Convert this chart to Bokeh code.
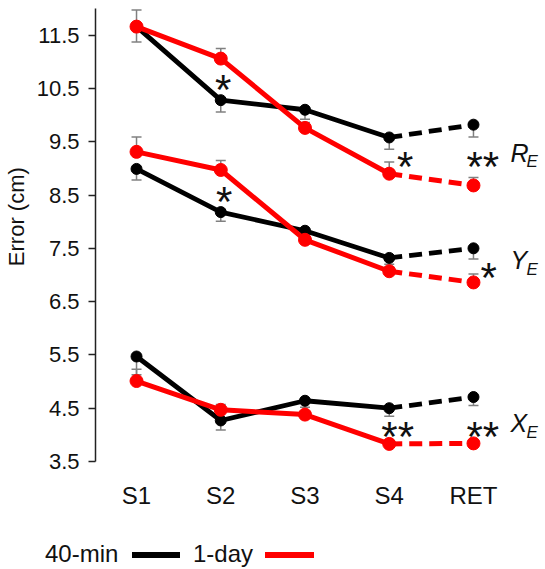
from bokeh.plotting import figure
from bokeh.layouts import column
from bokeh.models import Range1d, FixedTicker, ColumnDataSource, Whisker, TeeHead, Div
from bokeh.core.properties import value
from bokeh.embed import file_html
from bokeh.resources import INLINE

# ---------------- data ----------------
sessions = ["S1", "S2", "S3", "S4", "RET"]
x_pos = [1, 2, 3, 4, 5]
y_ticks = [3.5, 4.5, 5.5, 6.5, 7.5, 8.5, 9.5, 10.5, 11.5]

re_40min = [11.66, 10.28, 10.10, 9.58, 9.82]
re_40min_err = [0.29, 0.22, 0.18, 0.22, 0.23]
re_1day = [11.66, 11.06, 9.76, 8.90, 8.68]
re_1day_err = [0.31, 0.19, 0.10, 0.22, 0.15]

ye_40min = [8.99, 8.18, 7.83, 7.32, 7.50]
ye_40min_err = [0.21, 0.17, 0.08, 0.12, 0.20]
ye_1day = [9.31, 8.97, 7.66, 7.07, 6.86]
ye_1day_err = [0.28, 0.18, 0.08, 0.08, 0.16]

xe_40min = [5.47, 4.27, 4.64, 4.50, 4.71]
xe_40min_err = [0.34, 0.18, 0.12, 0.15, 0.16]
xe_1day = [5.01, 4.47, 4.38, 3.83, 3.84]
xe_1day_err = [0.22, 0.10, 0.05, 0.05, 0.05]

# significance marks (x position, y position, text)
sig_x = [2.03, 4.19, 5.11, 2.04, 5.18, 4.10, 5.11]
sig_y = [10.59, 9.14, 9.15, 8.50, 7.06, 4.08, 4.08]
sig_text = ["*", "*", "**", "*", "*", "**", "**"]

# measure labels
meas_main = ["R", "Y", "X"]
meas_sub = ["E", "E", "E"]
meas_y = [9.29, 7.28, 4.22]
meas_x = [5.44, 5.44, 5.44]

legend_labels = ["40-min", "1-day"]
legend_colors = ["#000000", "#ff0000"]

# ---------------- style ----------------
FONT = "Liberation Sans"
BLACK = "#000000"
RED = "#ff0000"
ERR = "#808080"
TXT = "#111111"

p = figure(width=545, height=513, output_backend="svg", toolbar_location=None,
           x_range=Range1d(0.513, 5.855), y_range=Range1d(3.5, 12.0),
           min_border_left=95, min_border_right=0, min_border_top=8,
           min_border_bottom=52)
p.outline_line_color = None
p.xgrid.visible = False
p.ygrid.visible = False

# y axis
p.yaxis.ticker = FixedTicker(ticks=y_ticks)
p.yaxis.minor_tick_line_color = None
p.yaxis.major_tick_in = 0
p.yaxis.major_tick_out = 7
p.yaxis.major_label_standoff = 9
p.yaxis.axis_line_color = "#222222"
p.yaxis.axis_line_width = 1.5
p.yaxis.major_tick_line_color = "#222222"
p.yaxis.major_tick_line_width = 1.5
p.yaxis.major_label_text_font = FONT
p.yaxis.major_label_text_font_size = "22px"
p.yaxis.major_label_text_color = TXT
# leading non-breaking spaces lift the centred label slightly, as in the original
p.yaxis.axis_label = "\u00a0" * 6 + "Error (cm)"
p.yaxis.axis_label_text_font = FONT
p.yaxis.axis_label_text_font_size = "22px"
p.yaxis.axis_label_text_font_style = "normal"
p.yaxis.axis_label_text_color = TXT
p.yaxis.axis_label_standoff = 5

# x axis
p.xaxis.ticker = FixedTicker(ticks=x_pos)
p.xaxis.major_label_overrides = {x: s for x, s in zip(x_pos, sessions)}
p.xaxis.axis_line_color = None
p.xaxis.major_tick_line_color = None
p.xaxis.minor_tick_line_color = None
p.xaxis.major_tick_in = 0
p.xaxis.major_tick_out = 0
p.xaxis.major_label_standoff = 20
p.xaxis.major_label_text_font = FONT
p.xaxis.major_label_text_font_size = "24px"
p.xaxis.major_label_text_color = TXT


def add_errs(vals, errs, down):
    if down:
        lower = [v - e for v, e in zip(vals, errs)]
        upper = list(vals)
        src = ColumnDataSource(dict(base=x_pos, lower=lower, upper=upper))
        w = Whisker(source=src, base="base", lower="lower", upper="upper",
                    upper_head=None,
                    lower_head=TeeHead(size=10, line_color=ERR, line_width=1.5),
                    line_color=ERR, line_width=1.5)
    else:
        lower = list(vals)
        upper = [v + e for v, e in zip(vals, errs)]
        src = ColumnDataSource(dict(base=x_pos, lower=lower, upper=upper))
        w = Whisker(source=src, base="base", lower="lower", upper="upper",
                    lower_head=None,
                    upper_head=TeeHead(size=10, line_color=ERR, line_width=1.5),
                    line_color=ERR, line_width=1.5)
    p.add_layout(w)


def add_series(vals, color, lw, msize):
    p.line(x_pos[:4], vals[:4], line_color=color, line_width=lw)
    p.line(x_pos[3:], vals[3:], line_color=color, line_width=lw, line_dash="13 7")
    p.scatter(x_pos, vals, size=msize, fill_color=color, line_color=color)


for v, e in [(re_40min, re_40min_err), (ye_40min, ye_40min_err), (xe_40min, xe_40min_err)]:
    add_errs(v, e, True)
for v, e in [(re_1day, re_1day_err), (ye_1day, ye_1day_err), (xe_1day, xe_1day_err)]:
    add_errs(v, e, False)

for v in [re_40min, ye_40min, xe_40min]:
    add_series(v, BLACK, 4.8, 11)
for v in [re_1day, ye_1day, xe_1day]:
    add_series(v, RED, 5, 13)

# significance asterisks
p.text(x=sig_x, y=sig_y, text=sig_text, text_font=value(FONT),
       text_font_size="42px", text_align="center", text_baseline="middle",
       y_offset=6, text_color=TXT)

# measure labels R_E, Y_E, X_E
p.text(x=meas_x, y=meas_y, text=meas_main, text_font=value(FONT),
       text_font_style="italic", text_font_size="25px", text_align="left",
       text_baseline="middle", text_color=TXT)
p.text(x=meas_x, y=meas_y, text=meas_sub, text_font=value(FONT),
       text_font_style="italic", text_font_size="17px", text_align="left",
       text_baseline="middle", x_offset=16, y_offset=9, text_color=TXT)

# ---------------- legend strip (label, then line) ----------------
text_left = [45, 193]
line_left = [132, 265]
line_width_px = [48, 49]
parts = []
for lab, col, tl, ll, lw in zip(legend_labels, legend_colors, text_left, line_left, line_width_px):
    parts.append(
        f'<span style="position:absolute;left:{tl}px;top:29px;line-height:24px;'
        f'white-space:nowrap;">{lab}</span>'
        f'<span style="position:absolute;left:{ll}px;top:39px;width:{lw}px;'
        f'height:6px;background:{col};display:block;"></span>')
html = ('<div style="position:relative;width:545px;height:56px;'
        f'font-family:\'{FONT}\';font-size:24px;color:{TXT};">' + "".join(parts) + '</div>')
leg = Div(text=html, width=545, height=56, margin=0)

layout = column(p, leg, spacing=0)
open("out.html", "w").write(file_html(layout, INLINE))
